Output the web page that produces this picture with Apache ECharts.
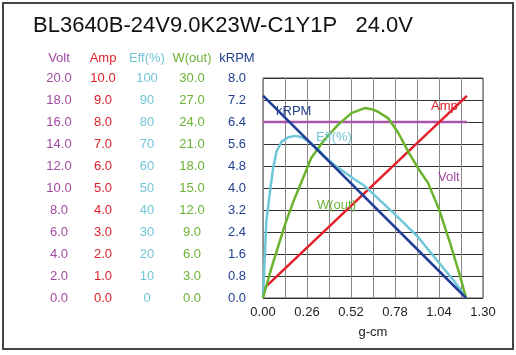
<!DOCTYPE html>
<html>
<head>
<meta charset="utf-8">
<script src="https://cdn.jsdelivr.net/npm/echarts@6/dist/echarts.min.js"></script>
<style>
html,body{margin:0;padding:0;background:#fff;}
#c{width:516px;height:355px;}
</style>
</head>
<body>
<div id="c"></div>
<script>
// ---- data ----
var titleText = 'BL3640B-24V9.0K23W-C1Y1P   24.0V';
var xTicks = [0, 0.26, 0.52, 0.78, 1.04, 1.30];

var voltX = [0, 1.205];
var voltY = [16.0, 16.0];

var ampX = [0, 1.205];
var ampY = [0.39, 9.19];

var effX = [0, 0.02, 0.045, 0.06, 0.08, 0.11, 0.15, 0.19, 0.23, 0.27, 0.32, 0.36, 0.42, 0.48, 0.54, 0.60, 0.63, 0.78, 0.92, 1.04, 1.13, 1.20];
var effY = [0, 35, 50.7, 59, 66.6, 71.1, 73.1, 73.7, 73.1, 71.1, 68.1, 64.6, 60.6, 57.3, 54, 51, 48.8, 38, 27.4, 16, 7.6, 0];

var woutX = [0, 0.05, 0.13, 0.18, 0.22, 0.285, 0.364, 0.443, 0.522, 0.601, 0.65, 0.68, 0.74, 0.80, 0.857, 0.916, 0.975, 1.04, 1.103, 1.162, 1.20];
var woutY = [0, 4.1, 10, 13.2, 15.4, 19.1, 21.6, 23.6, 25.2, 25.9, 25.7, 25.4, 24.5, 22.5, 20, 17.7, 15.7, 12.1, 7.7, 3.2, 0];

var krpmX = [0, 1.20];
var krpmY = [7.36, 0];

var axisNames = ['Volt', 'Amp', 'Eff(%)', 'W(out)', 'kRPM'];
var axisMax = [20, 10, 100, 30, 8];
var axisDecimals = [1, 1, 0, 1, 1];
var colors = ['#a24ba2', '#dd1f26', '#72c5d6', '#6cb234', '#22408f'];
var lineColors = ['#a955ab', '#e2202a', '#6ec6d8', '#6ab42d', '#1f3f96'];
var colCenters = [59, 103, 147, 192, 237];

// ---- chart ----
var FONT = 'Arial, "Liberation Sans", sans-serif';
var plotLeft = 263;
function pairs(xs, ys){ return xs.map(function(x,i){ return [x, ys[i]]; }); }

var yAxes = axisNames.map(function(n, i){
  var dec = axisDecimals[i];
  return {
    type: 'value', position: 'left', min: 0, max: axisMax[i], interval: axisMax[i] / 10,
    offset: plotLeft - colCenters[i],
    name: n, nameLocation: 'end', nameGap: 13,
    nameTextStyle: {color: colors[i], fontSize: 13, fontFamily: FONT, align: 'center'},
    axisLine: {show: false, onZero: false},
    axisTick: {show: false},
    axisLabel: {
      color: colors[i], fontSize: 13, fontFamily: FONT, align: 'center', margin: 0,
      formatter: function(v){ return Number(v).toFixed(dec); }
    },
    splitLine: {show: i === 0, lineStyle: {color: '#333', width: 1}}
  };
});

var seriesData = [pairs(voltX, voltY), pairs(ampX, ampY), pairs(effX, effY), pairs(woutX, woutY), pairs(krpmX, krpmY)];
var series = seriesData.map(function(d, i){
  return {
    type: 'line', yAxisIndex: i, data: d, symbol: 'none', smooth: false,
    lineStyle: {color: lineColors[i], width: 2.5}, z: 3 + i, silent: true
  };
});

var inLabels = [
  {t: 'kRPM', l: 276, top: 105, c: colors[4]},
  {t: 'Eff(%)', l: 316, top: 131, c: colors[2]},
  {t: 'Amp', l: 431, top: 100, c: colors[1]},
  {t: 'Volt', l: 438, top: 171, c: colors[0]},
  {t: 'W(out)', l: 317, top: 199, c: colors[3]}
];

var chart = echarts.init(document.getElementById('c'), null, {renderer: 'canvas'});
chart.setOption({
  animation: false,
  backgroundColor: '#fff',
  title: {text: titleText, left: 33, top: 15, padding: 0,
    textStyle: {fontSize: 22, fontWeight: 'normal', color: '#111', fontFamily: FONT}},
  grid: {left: plotLeft, right: 33, top: 78, bottom: 57, show: true, borderColor: '#444', borderWidth: 1, backgroundColor: 'transparent'},
  xAxis: {
    type: 'value', min: 0, max: 1.3, interval: 0.13,
    name: 'g-cm', nameLocation: 'middle', nameGap: 28,
    nameTextStyle: {color: '#222', fontSize: 13, fontFamily: FONT},
    axisLine: {show: false, onZero: false}, axisTick: {show: false},
    axisLabel: {color: '#222', fontSize: 13, fontFamily: FONT, margin: 8, showMaxLabel: true,
      formatter: function(v){
        for (var k = 0; k < xTicks.length; k++) { if (Math.abs(v - xTicks[k]) < 1e-6) return xTicks[k].toFixed(2); }
        return '';
      }},
    splitLine: {show: true, lineStyle: {color: '#888', width: 1}}
  },
  yAxis: yAxes,
  series: series,
  graphic: [
    {type: 'rect', shape: {x: 3, y: 3, width: 510, height: 346}, style: {fill: 'none', stroke: '#444', lineWidth: 2}, z: 100}
  ].concat(inLabels.map(function(o){
    return {type: 'text', left: o.l, top: o.top, z: 50, style: {text: o.t, fill: o.c, font: '13px ' + FONT}};
  }))
});
</script>
</body>
</html>
